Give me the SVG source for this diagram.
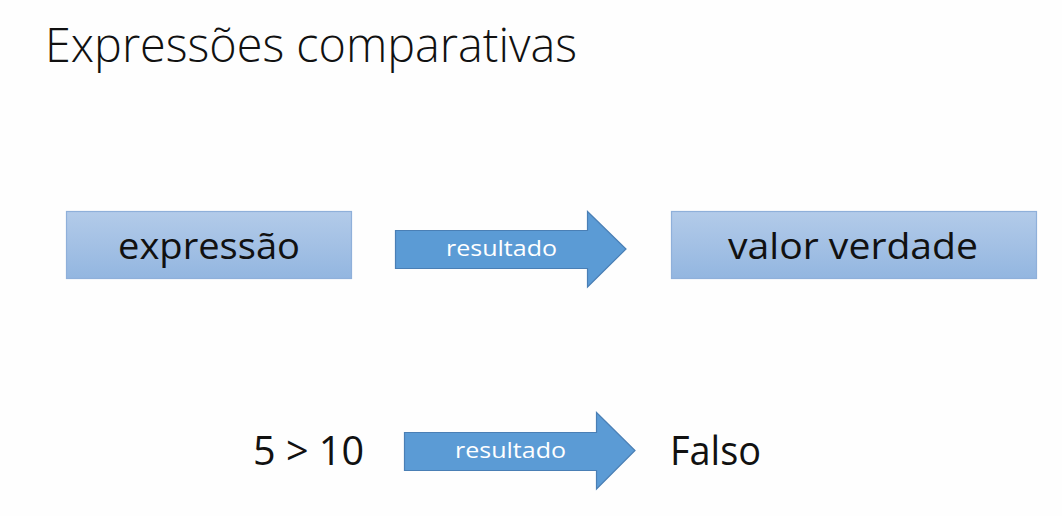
<svg xmlns="http://www.w3.org/2000/svg" width="1062" height="516" viewBox="0 0 1062 516">
<defs>
<linearGradient id="boxg" x1="0" y1="0" x2="0" y2="1">
<stop offset="0" stop-color="#b3cbe9"/>
<stop offset="1" stop-color="#93b6e0"/>
</linearGradient>
<style>
.box{fill:url(#boxg);stroke:#8fb0da;stroke-width:1.2}
.arr{fill:#5b9bd5;stroke:#4a7fb5;stroke-width:1.2}
.t{font-family:"Open Sans","Liberation Sans",sans-serif;fill:#111}
.w{font-family:"Open Sans","Liberation Sans",sans-serif;fill:#fff;font-size:22px}
</style>
</defs>
<rect width="1062" height="516" fill="#fefefe"/>
<text class="t" x="45" y="62" font-size="48" font-weight="300" textLength="532" lengthAdjust="spacingAndGlyphs">Expressões comparativas</text>
<g id="expressao">
<rect class="box" x="66.5" y="211.5" width="285" height="67"/>
<text class="t" x="118" y="259" font-size="37" textLength="182" lengthAdjust="spacingAndGlyphs">expressão</text>
</g>
<g id="valor-verdade">
<rect class="box" x="671.5" y="211.5" width="365" height="67"/>
<text class="t" x="728" y="259" font-size="37" textLength="250" lengthAdjust="spacingAndGlyphs">valor verdade</text>
</g>
<g id="expr-5-10">
<text class="t" x="253" y="465" font-size="40" textLength="111" lengthAdjust="spacingAndGlyphs">5 &gt; 10</text>
</g>
<g id="falso">
<text class="t" x="670" y="465" font-size="40" textLength="91" lengthAdjust="spacingAndGlyphs">Falso</text>
</g>
<g id="connectors">
<g id="arrow1">
<polygon class="arr" points="395.5,230.5 587.5,230.5 587.5,211.5 626,249 587.5,287 587.5,268.5 395.5,268.5"/>
<text class="w" x="446" y="256" textLength="111" lengthAdjust="spacingAndGlyphs">resultado</text>
</g>
<g id="arrow2">
<polygon class="arr" points="404.5,432.5 596.5,432.5 596.5,412.5 635,450.5 596.5,489 596.5,470.5 404.5,470.5"/>
<text class="w" x="455" y="458" textLength="111" lengthAdjust="spacingAndGlyphs">resultado</text>
</g>
</g>
</svg>
